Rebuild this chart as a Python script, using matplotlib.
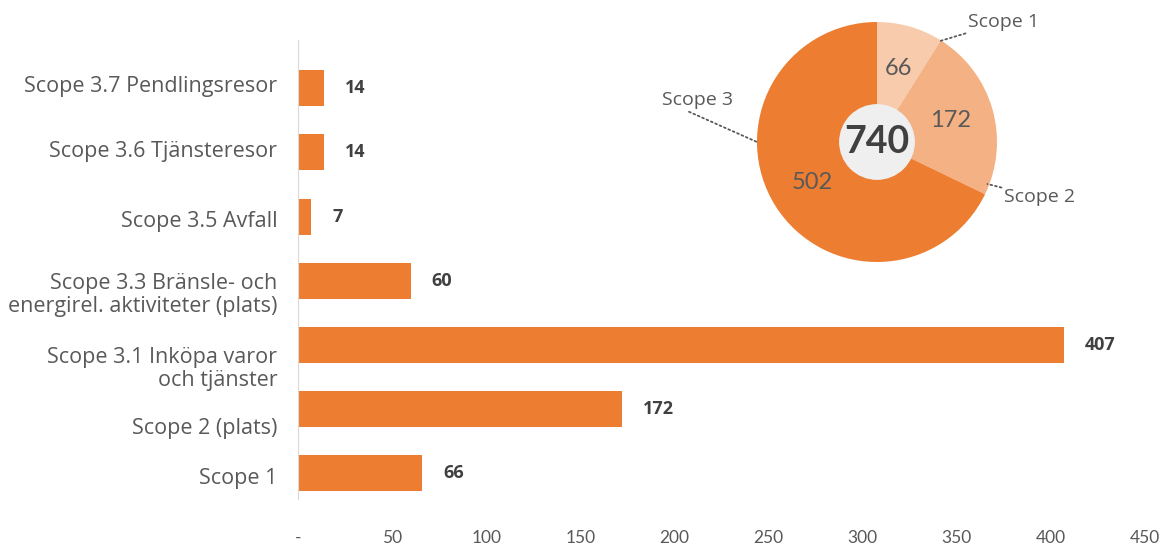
import matplotlib.pyplot as plt
from matplotlib.patches import Circle

categories = ["Scope 1", "Scope 2 (plats)", "Scope 3.1 Inköpa varor\noch tjänster",
              "Scope 3.3 Bränsle- och\nenergirel. aktiviteter (plats)",
              "Scope 3.5 Avfall", "Scope 3.6 Tjänsteresor", "Scope 3.7 Pendlingsresor"]
values = [66, 172, 407, 60, 7, 14, 14]
x_ticks = [0, 50, 100, 150, 200, 250, 300, 350, 400, 450]
x_tick_labels = ["-", "50", "100", "150", "200", "250", "300", "350", "400", "450"]

pie_labels = ["Scope 1", "Scope 2", "Scope 3"]
pie_values = [66, 172, 502]
pie_colors = ["#f8cbad", "#f4b183", "#ed7d31"]

orange = "#ed7d31"
grey = "#595959"

fig = plt.figure(figsize=(11.65, 5.47), dpi=100)

# bar chart
ax = fig.add_axes([298 / 1165, 1 - 499 / 547, 847 / 1165, 459 / 547])
ypos = list(range(len(categories)))
ax.barh(ypos, values, height=0.56, color=orange)
ax.set_xlim(0, 450)
ax.set_ylim(-0.4, 6.75)
for s in ["top", "right", "bottom"]:
    ax.spines[s].set_visible(False)
ax.spines["left"].set_color("#d9d9d9")
ax.tick_params(axis="both", length=0)
ax.set_xticks(x_ticks)
ax.set_xticklabels(x_tick_labels, family="Lato", fontsize=12.5, color=grey)
ax.tick_params(axis="x", pad=22)
ax.set_yticks(ypos)
ax.set_yticklabels([])

# category labels, nudged like the original
label_shift = [-5, -19, -24, -14, -5, 1, 2]
for y, lab, dy in zip(ypos, categories, label_shift):
    ax.annotate(lab, xy=(0, y), xytext=(-15, dy * 0.72), textcoords="offset points",
                ha="right", va="center", multialignment="right",
                family="Open Sans", fontsize=15.5, color=grey, linespacing=1.15,
                annotation_clip=False)

for y, v in zip(ypos, values):
    ax.annotate(str(v), xy=(v, y), xytext=(15, 0), textcoords="offset points",
                ha="left", va="center", family="Open Sans", fontweight="bold",
                fontsize=13, color="#404040")

# pie chart
cx, cy, r = 877, 142, 120
pax = fig.add_axes([(cx - r) / 1165, 1 - (cy + r) / 547, 2 * r / 1165, 2 * r / 547])
total = sum(pie_values)
pax.pie(pie_values, colors=pie_colors, startangle=90, counterclock=False, radius=1,
        autopct=lambda p: f"{p * total / 100:.0f}", pctdistance=0.64,
        textprops=dict(family="Lato", fontsize=17, color=grey))
pax.add_patch(Circle((0, 0), 0.31, color="#efefef", zorder=5))
pax.text(0, 0, str(total), ha="center", va="center", family="Lato",
         fontweight="bold", fontsize=27, color="#404040", zorder=6)
pax.set_xlim(-1, 1)
pax.set_ylim(-1, 1)
pax.set_aspect("equal")
pax.axis("off")

leader = dict(arrowstyle="-", linestyle=":", color=grey, lw=1.3, shrinkA=0, shrinkB=0)
pax.annotate(pie_labels[0], xy=(0.52, 0.84), xytext=(0.76, 1.0), ha="left", va="center",
             family="Open Sans", fontsize=14, color=grey, arrowprops=leader,
             annotation_clip=False)
pax.annotate(pie_labels[1], xy=(0.92, -0.35), xytext=(1.06, -0.46), ha="left", va="center",
             family="Open Sans", fontsize=14, color=grey, arrowprops=leader,
             annotation_clip=False)
pax.annotate(pie_labels[2], xy=(-1.0, 0.0), xytext=(-1.5, 0.35), ha="center", va="center",
             family="Open Sans", fontsize=14, color=grey,
             arrowprops=dict(leader, relpos=(0.3, 0.0)), annotation_clip=False)

fig.savefig("out.png", dpi=100)
